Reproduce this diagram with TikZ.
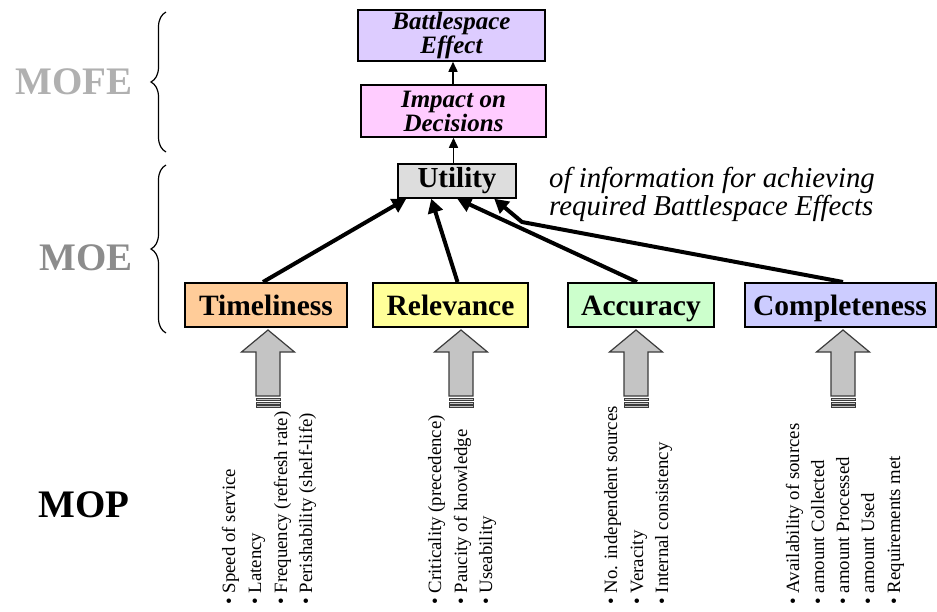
\documentclass[tikz,border=0pt]{standalone}
\usepackage{fontspec}
\setmainfont{Liberation Serif}[
  BoldFont={* Bold},
  ItalicFont={* Italic},
  BoldItalicFont={* Bold Italic}]
\usetikzlibrary{arrows.meta,decorations.pathreplacing,calc}

\definecolor{befill}{HTML}{DDCCFF}
\definecolor{impfill}{HTML}{FFCCFF}
\definecolor{utilfill}{HTML}{DDDDDD}
\definecolor{timefill}{HTML}{FFCC99}
\definecolor{relfill}{HTML}{FFFF99}
\definecolor{accfill}{HTML}{CCFFCC}
\definecolor{compfill}{HTML}{CCCCFF}
\definecolor{blockfill}{HTML}{C4C4C4}
\definecolor{blockedge}{HTML}{3C3C3C}
\definecolor{mofegray}{HTML}{B0B0B0}
\definecolor{moegray}{HTML}{8C8C8C}

\tikzset{
  topbox/.style={draw=black, line width=1.5pt, inner sep=0pt, align=center,
    font=\fontsize{25}{24}\selectfont\bfseries\itshape},
  measbox/.style={draw=black, line width=2pt, inner sep=0pt,
    minimum height=44pt, text height=21pt, text depth=1pt,
    font=\fontsize{29.5}{30}\selectfont\bfseries},
  thinarrow/.style={line width=1.5pt, -{Triangle[length=10pt,width=9pt]}},
  thickarrow/.style={line width=4pt, line join=round, -{Triangle[length=14pt,width=15pt]}},
  levellabel/.style={font=\fontsize{39}{39}\selectfont\bfseries},
  levelbrace/.style={line width=1.2pt, decorate, decoration={brace, amplitude=15pt}},
  mopitem/.style={rotate=90, anchor=base west, inner sep=0pt,
    font=\fontsize{18.8}{20}\selectfont},
  blockarrow/.pic={
    \path[fill=blockfill, draw=blockedge, line width=1.2pt]
      (0,330) -- (26.5,352) -- (12,352) -- (12,396) -- (-12,396)
      -- (-12,352) -- (-26.5,352) -- cycle;
    \foreach \yy in {398.5,402,405.5}
      \path[fill=blockfill, draw=blockedge, line width=0.8pt]
        (-12,\yy) rectangle (12,\yy+2.2);
  }
}

\begin{document}
\begin{tikzpicture}[x=1pt, y=-1pt]
\useasboundingbox (0,0) rectangle (937,611);

% effectiveness levels
\node[levellabel, text=mofegray] (mofe) at (74,82) {MOFE};
\node[levellabel, text=moegray] (moe) at (86,258) {MOE};
\node[levellabel] (mop) at (84,505) {MOP};
\draw[levelbrace] (166,152) -- (166,12);
\draw[levelbrace] (166,333) -- (166,165);

% top of the hierarchy
\node[topbox, fill=befill, minimum width=187pt, minimum height=51pt]
  (be) at (451.5,35.5) {Battlespace\\Effect};
\node[topbox, fill=impfill, minimum width=185pt, minimum height=52pt]
  (imp) at (453.5,111) {Impact on\\Decisions};
\node[draw=black, line width=1.5pt, fill=utilfill, inner sep=0pt,
  minimum width=118pt, minimum height=34pt,
  font=\fontsize{29}{30}\selectfont\bfseries] (util) at (457,181) {Utility};
\node[anchor=north west, align=left, inner sep=0pt,
  font=\fontsize{28.8}{28}\selectfont\itshape] (desc) at (549,167)
  {of information for achieving\\required Battlespace Effects};

\draw[thinarrow] ($(imp.north)+(-0.5,0)$) -- ($(be.south)+(1.5,0)$);
\draw[thinarrow] ($(util.north)+(-3.5,0)$) -- ($(imp.south)+(0,0)$);

% measures of effectiveness
\node[measbox, fill=timefill, minimum width=162pt] (tim) at (266,305) {Timeliness};
\node[measbox, fill=relfill, minimum width=155pt] (rel) at (450.5,305) {Relevance};
\node[measbox, fill=accfill, minimum width=146pt] (acc) at (641,305) {Accuracy};
\node[measbox, fill=compfill, minimum width=191pt] (comp) at (840,305) {Completeness};

\coordinate (bend) at (522,222);
\draw[thickarrow] ($(tim.north)+(-3,0)$) -- ($(util.south west)+(9,0)$);
\draw[thickarrow] ($(rel.north)+(7,0)$) -- ($(util.south west)+(34,0)$);
\draw[thickarrow] ($(acc.north)+(-4,0)$) -- ($(util.south west)+(60,0)$);
\draw[thickarrow] ($(comp.north)+(3,0)$) -- (bend) -- ($(util.south west)+(97,0)$);

% measures of performance feeding each measure
\pic at (268,0) {blockarrow};
\pic at (461,0) {blockarrow};
\pic at (636,0) {blockarrow};
\pic at (843,0) {blockarrow};

\foreach \nm/\xx/\txt in {
  t1/235/{Speed of service},
  t2/261/{Latency},
  t3/287/{Frequency (refresh rate)},
  t4/312/{Perishability (shelf-life)},
  r1/441/{Criticality (precedence)},
  r2/467/{Paucity of knowledge},
  r3/492/{Useability},
  a1/617/{No. independent sources},
  a2/643/{Veracity},
  a3/668/{Internal consistency},
  c1/799/{Availability of sources},
  c2/824/{amount Collected},
  c3/849/{amount Processed},
  c4/874/{amount Used},
  c5/900/{Requirements met}}
  \node[mopitem] (\nm) at (\xx,605) {\textbullet\hspace{5pt}\txt};

\end{tikzpicture}
\end{document}
